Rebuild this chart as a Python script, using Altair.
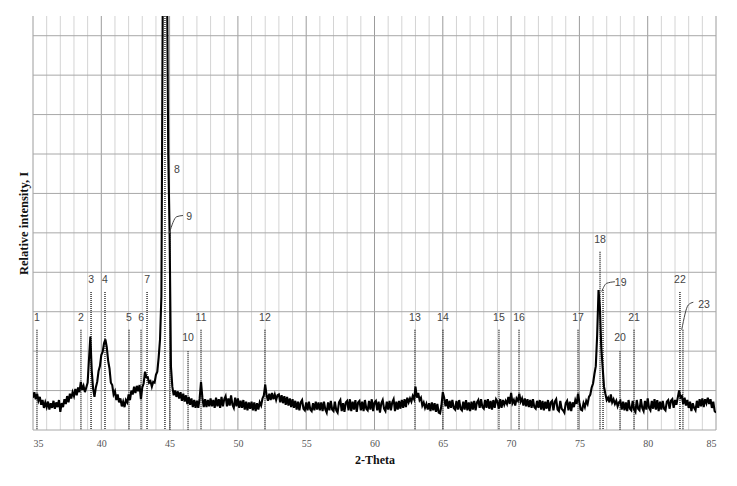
import altair as alt
import pandas as pd

# ---- XRD scan (2-Theta grid 35.0 .. 85.0, step 0.1) ----
scan_start = 35.0
scan_step = 0.1
intensity_rows = [
    [0.82, 0.96, 0.78, 0.92, 0.74, 0.84, 0.64, 0.76, 0.56, 0.70],  # 35
    [0.58, 0.72, 0.52, 0.68, 0.56, 0.74, 0.54, 0.70, 0.58, 0.76],  # 36
    [0.46, 0.68, 0.58, 0.78, 0.66, 0.86, 0.70, 0.92, 0.80, 0.96],  # 37
    [0.86, 1.04, 0.88, 1.08, 0.96, 1.22, 1.02, 1.12, 0.96, 1.08],  # 38
    [1.20, 1.80, 2.37, 1.50, 1.05, 0.84, 1.08, 1.22, 1.50, 1.62],  # 39
    [1.90, 1.98, 2.20, 2.30, 2.10, 1.76, 1.56, 1.20, 1.14, 0.90],  # 40
    [0.98, 0.76, 0.90, 0.70, 0.80, 0.60, 0.72, 0.58, 0.76, 0.70],  # 41
    [0.90, 0.76, 1.00, 0.90, 1.10, 0.94, 1.12, 0.98, 1.14, 0.78],  # 42
    [1.08, 1.18, 1.48, 1.34, 1.34, 1.20, 1.24, 1.10, 1.22, 1.20],  # 43
    [1.40, 1.48, 1.84, 2.30, 3.40, 11.0, 14.0, 14.0, 12.0, 7.00],  # 44
    [5.00, 1.60, 1.10, 0.88, 1.00, 0.84, 0.98, 0.80, 0.96, 0.74],  # 45
    [0.92, 0.72, 0.88, 0.66, 0.84, 0.64, 0.80, 0.58, 0.76, 0.56],  # 46
    [0.74, 0.56, 0.80, 1.22, 0.82, 0.58, 0.78, 0.58, 0.76, 0.60],  # 47
    [0.80, 0.60, 0.76, 0.56, 0.82, 0.60, 0.78, 0.56, 0.84, 0.60],  # 48
    [0.78, 0.86, 0.60, 0.80, 0.62, 0.88, 0.64, 0.56, 0.82, 0.60],  # 49
    [0.80, 0.56, 0.74, 0.56, 0.76, 0.52, 0.72, 0.50, 0.70, 0.54],  # 50
    [0.72, 0.50, 0.70, 0.48, 0.68, 0.52, 0.70, 0.62, 0.80, 0.88],  # 51
    [1.15, 0.88, 0.74, 0.92, 0.76, 0.94, 0.78, 0.90, 0.76, 0.88],  # 52
    [0.90, 0.70, 0.88, 0.68, 0.86, 0.64, 0.84, 0.62, 0.80, 0.58],  # 53
    [0.78, 0.56, 0.74, 0.52, 0.72, 0.50, 0.70, 0.76, 0.54, 0.50],  # 54
    [0.70, 0.50, 0.72, 0.52, 0.48, 0.68, 0.50, 0.72, 0.52, 0.70],  # 55
    [0.50, 0.70, 0.48, 0.72, 0.52, 0.44, 0.70, 0.50, 0.74, 0.52],  # 56
    [0.48, 0.72, 0.50, 0.44, 0.70, 0.76, 0.48, 0.68, 0.46, 0.70],  # 57
    [0.74, 0.50, 0.78, 0.48, 0.72, 0.52, 0.76, 0.46, 0.70, 0.74],  # 58
    [0.50, 0.72, 0.48, 0.76, 0.54, 0.50, 0.74, 0.52, 0.78, 0.48],  # 59
    [0.70, 0.74, 0.50, 0.72, 0.44, 0.68, 0.76, 0.54, 0.48, 0.72],  # 60
    [0.52, 0.74, 0.50, 0.70, 0.78, 0.48, 0.72, 0.52, 0.74, 0.54],  # 61
    [0.76, 0.56, 0.78, 0.58, 0.82, 0.70, 0.80, 0.72, 0.86, 0.78],  # 62
    [1.10, 0.82, 0.94, 0.76, 0.82, 0.62, 0.70, 0.56, 0.66, 0.52],  # 63
    [0.68, 0.48, 0.70, 0.50, 0.68, 0.46, 0.66, 0.44, 0.42, 0.62],  # 64
    [0.96, 0.82, 0.60, 0.78, 0.54, 0.74, 0.56, 0.76, 0.56, 0.52],  # 65
    [0.74, 0.52, 0.76, 0.54, 0.50, 0.72, 0.52, 0.76, 0.50, 0.70],  # 66
    [0.48, 0.72, 0.52, 0.74, 0.50, 0.70, 0.76, 0.56, 0.78, 0.58],  # 67
    [0.54, 0.76, 0.56, 0.78, 0.54, 0.74, 0.52, 0.76, 0.56, 0.78],  # 68
    [0.72, 0.54, 0.78, 0.56, 0.76, 0.64, 0.74, 0.66, 0.84, 0.66],  # 69
    [0.94, 0.68, 0.76, 0.62, 0.80, 0.74, 0.92, 0.72, 0.80, 0.62],  # 70
    [0.80, 0.60, 0.78, 0.58, 0.76, 0.56, 0.78, 0.58, 0.54, 0.74],  # 71
    [0.56, 0.76, 0.52, 0.74, 0.50, 0.72, 0.54, 0.76, 0.48, 0.70],  # 72
    [0.74, 0.50, 0.72, 0.78, 0.52, 0.48, 0.74, 0.54, 0.50, 0.44],  # 73
    [0.68, 0.74, 0.50, 0.72, 0.48, 0.70, 0.58, 0.76, 0.66, 0.92],  # 74
    [0.70, 0.52, 0.50, 0.68, 0.58, 0.74, 0.66, 0.84, 0.90, 1.08],  # 75
    [1.18, 1.42, 1.62, 2.40, 3.55, 3.10, 2.10, 1.60, 1.10, 0.92],  # 76
    [0.76, 0.82, 0.70, 0.90, 0.70, 0.78, 0.66, 0.74, 0.60, 0.70],  # 77
    [0.74, 0.52, 0.72, 0.50, 0.70, 0.48, 0.76, 0.54, 0.50, 0.74],  # 78
    [0.52, 0.46, 0.76, 0.54, 0.50, 0.78, 0.56, 0.48, 0.74, 0.52],  # 79
    [0.80, 0.56, 0.50, 0.74, 0.54, 0.78, 0.52, 0.76, 0.48, 0.72],  # 80
    [0.52, 0.74, 0.54, 0.50, 0.72, 0.76, 0.54, 0.74, 0.78, 0.56],  # 81
    [0.76, 0.64, 0.82, 1.00, 0.82, 0.86, 0.66, 0.82, 0.62, 0.76],  # 82
    [0.56, 0.72, 0.48, 0.68, 0.56, 0.50, 0.74, 0.56, 0.78, 0.60],  # 83
    [0.80, 0.58, 0.78, 0.68, 0.82, 0.66, 0.78, 0.56, 0.72, 0.48],  # 84
    [0.44],                                                        # 85
]

# ---- axis ticks / grid ----
x_major = [35, 40, 45, 50, 55, 60, 65, 70, 75, 80, 85]
x_minor = [36, 37, 38, 39, 41, 42, 43, 44, 46, 47, 48, 49, 51, 52, 53, 54,
           56, 57, 58, 59, 61, 62, 63, 64, 66, 67, 68, 69, 71, 72, 73, 74,
           76, 77, 78, 79, 81, 82, 83, 84]
y_grid = [0, 1, 2, 3, 4, 5, 6, 7, 8, 9, 10]

# ---- peak markers ----
peak_ids = ["1", "2", "3", "4", "5", "6", "7", "8", "9", "10", "11", "12",
            "13", "14", "15", "16", "17", "18", "19", "20", "21", "22", "23"]
peak_pos = [35.29, 38.51, 39.25, 40.27, 42.03, 42.91, 43.35, 44.66, 45.03,
            46.35, 47.30, 51.98, 62.96, 65.01, 69.11, 70.58, 74.90, 76.51,
            76.73, 77.97, 79.00, 82.36, 82.58]
peak_top = [2.54, 2.54, 3.50, 3.50, 2.54, 2.54, 3.50, 10.5, 5.00,
            2.00, 2.54, 2.54, 2.54, 2.54, 2.54, 2.54, 2.54, 4.52,
            3.55, 2.00, 2.54, 3.50, 2.54]
label_x = [35.29, 38.51, 39.25, 40.27, 42.03, 42.91, 43.35, 45.54, 46.44,
           46.35, 47.30, 51.98, 62.96, 65.01, 69.11, 70.58, 74.90, 76.51,
           78.02, 77.97, 79.00, 82.36, 84.13]
label_y = [2.84, 2.84, 3.80, 3.80, 2.84, 2.84, 3.80, 6.60, 5.41,
           2.34, 2.84, 2.84, 2.84, 2.84, 2.84, 2.84, 2.84, 4.82,
           3.74, 2.34, 2.84, 3.80, 3.17]

# leader lines for offset labels 9, 19, 23
leader_id = ["9", "9", "9", "19", "19", "19", "23", "23", "23"]
leader_x = [44.98, 45.52, 45.98, 76.63, 76.99, 77.60, 82.49, 82.97, 83.34]
leader_y = [4.99, 5.41, 5.44, 3.51, 3.72, 3.76, 2.54, 3.17, 3.24]

# ---- build tables ----
intensity = [v for row in intensity_rows for v in row]
two_theta = [round(scan_start + i * scan_step, 2) for i in range(len(intensity))]
scan = pd.DataFrame({"two_theta": two_theta, "intensity": intensity})
peaks = pd.DataFrame({"id": peak_ids, "pos": peak_pos, "top": peak_top,
                      "lx": label_x, "ly": label_y})
leaders = pd.DataFrame({"id": leader_id, "x": leader_x, "y": leader_y,
                        "order": list(range(len(leader_id)))})

X_DOMAIN = [35, 85]
Y_DOMAIN = [0, 10.5]
x_scale = alt.Scale(domain=X_DOMAIN, nice=False, zero=False)
y_scale = alt.Scale(domain=Y_DOMAIN, nice=False)

x_axis = alt.Axis(
    values=x_major,
    grid=False,
    ticks=False,
    domain=False,
    labelFont="Liberation Serif",
    labelFontSize=10,
    labelColor="#555555",
    labelPadding=8,
    title="2-Theta",
    titleFont="Liberation Serif",
    titleFontSize=12,
    titleFontWeight="bold",
    titleColor="#111111",
    titlePadding=6,
)
y_axis = alt.Axis(
    values=y_grid,
    labels=False,
    ticks=False,
    domain=False,
    grid=False,
    title="Relative intensity, I",
    titleFont="Liberation Serif",
    titleFontSize=12.5,
    titleFontWeight="bold",
    titleColor="#111111",
    titlePadding=3,
)

minor_grid = alt.Chart(pd.DataFrame({"g": x_minor})).mark_rule(
    color="#d4d4d4", strokeWidth=1).encode(
    x=alt.X("g:Q", scale=x_scale, axis=x_axis),
)
major_grid = alt.Chart(pd.DataFrame({"g": x_major})).mark_rule(
    color="#9c9c9c", strokeWidth=1).encode(
    x=alt.X("g:Q", scale=x_scale),
)
h_grid = alt.Chart(pd.DataFrame({"g": y_grid})).mark_rule(
    color="#a8a8a8", strokeWidth=1).encode(
    y=alt.Y("g:Q", scale=y_scale, axis=y_axis),
)

line = alt.Chart(scan).mark_line(color="black", strokeWidth=2.1, clip=True,
                                  strokeJoin="miter").encode(
    x=alt.X("two_theta:Q", scale=x_scale),
    y=alt.Y("intensity:Q", scale=y_scale),
)

drops = alt.Chart(peaks).mark_rule(color="#333333", strokeWidth=1.5,
                                   strokeDash=[1, 1], clip=True).encode(
    x=alt.X("pos:Q", scale=x_scale),
    y=alt.Y("top:Q", scale=y_scale),
    y2=alt.datum(0),
)

leader_lines = alt.Chart(leaders).mark_line(color="#444444", strokeWidth=1,
                                            interpolate="monotone").encode(
    x=alt.X("x:Q", scale=x_scale),
    y=alt.Y("y:Q", scale=y_scale),
    detail="id:N",
    order="order:Q",
)

labels = alt.Chart(peaks).mark_text(font="Liberation Sans", fontSize=10.5,
                                    color="#444444", baseline="middle",
                                    align="center").encode(
    x=alt.X("lx:Q", scale=x_scale),
    y=alt.Y("ly:Q", scale=y_scale),
    text="id:N",
)

chart = alt.layer(minor_grid, major_grid, h_grid, drops, line,
                  leader_lines, labels).properties(
    width=683,
    height=414,
    autosize=alt.AutoSizeParams(type="none"),
    padding={"left": 25, "top": 8, "right": 12, "bottom": 60},
    background="white",
).configure_view(stroke=None)

chart.save("out.html", embed_options={"renderer": "svg", "actions": False})
